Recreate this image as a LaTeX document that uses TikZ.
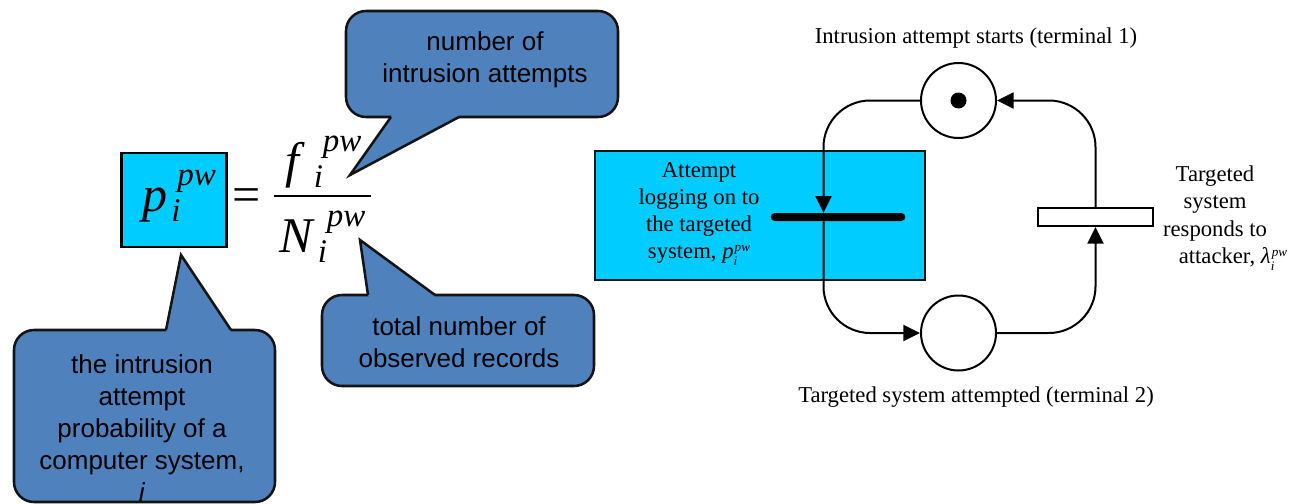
\documentclass[tikz,border=0pt]{standalone}
\usepackage{fontspec}
\usepackage{graphicx}
\setmainfont{Liberation Serif}
\newfontfamily\calloutfont{Liberation Sans}
\usetikzlibrary{arrows.meta}

\definecolor{calloutblue}{HTML}{4F81BD}
\definecolor{calloutedge}{HTML}{141414}
\definecolor{boxcyan}{HTML}{00CCFF}

% symbol with subscript i and superscript pw, large formula version;
% #2 = gap before the subscript, #3 = gap before the superscript (in em)
\newcommand\bigsym[3]{\textit{#1}\kern#2em\raisebox{-0.2em}{\rlap{\scalebox{0.66}{\textit{i}}}}\kern\dimexpr#3em-#2em\relax\raisebox{0.52em}{\scalebox{0.66}{\textit{pw}}}}
% same, for the inline labels of the net
\newcommand\smallsym[1]{\textit{#1}\raisebox{-0.3em}{\rlap{\scalebox{0.58}{\textit{i}}}}\kern0.05em\raisebox{0.32em}{\scalebox{0.58}{\textit{pw}}}}

\tikzset{
  callout/.style={fill=calloutblue, draw=calloutedge, line width=1.9pt, rounded corners=15pt},
  calloutpatch/.style={fill=calloutblue},
  calloutside/.style={draw=calloutedge, line width=1.9pt, line join=miter},
  callouttext/.style={font=\calloutfont\fontsize{19.5pt}{24pt}\selectfont, align=center, text=black, inner sep=0pt},
  formula/.style={font=\fontsize{37.5pt}{45pt}\selectfont, inner sep=0pt},
  petritext/.style={font=\fontsize{17pt}{20.4pt}\selectfont, align=center, inner sep=0pt},
  place/.style={circle, draw=black, fill=white, line width=1.5pt, minimum size=56.25pt, inner sep=0pt},
  token/.style={circle, fill=black, minimum size=12pt, inner sep=0pt},
  timedtrans/.style={rectangle, draw=black, fill=white, line width=1.5pt, minimum width=86pt, minimum height=13.5pt, inner sep=0pt},
  immtrans/.style={rectangle, fill=black, rounded corners=3pt, minimum width=101pt, minimum height=6pt, inner sep=0pt},
  arc/.style={draw=black, line width=1.5pt, rounded corners=35pt, -{Triangle[length=12.5pt,width=12pt]}},
}

\begin{document}
\begin{tikzpicture}[x=0.75pt,y=-0.75pt]
\useasboundingbox (0,0) rectangle (1291,503);

% ---------- formula ----------
\node[rectangle, draw=black, line width=2.2pt, fill=boxcyan, minimum width=79pt, minimum height=70.5pt, inner sep=0pt] (pbox) at (174,200) {};
\node[formula, anchor=base west] (plhs) at (142,211) {\bigsym{p}{0.08}{0.2}};
\node[formula, anchor=base] (eq) at (247,211) {=};
\node[formula, anchor=base west] (fnum) at (285,177) {\bigsym{f}{0.18}{0.36}};
\node[formula, anchor=base west] (nden) at (279,252) {\bigsym{N}{0.06}{0.24}};
\coordinate (barL) at (274,196);
\coordinate (barR) at (371,196);
\draw[line width=1.5pt] (barL) -- (barR);

% ---------- callouts ----------
% number of intrusion attempts
\filldraw[callout] (346,11) rectangle (618,117);
\fill[calloutpatch] (350,175) -- (391,117) -- (393,112) -- (457,112) -- (459,117) -- cycle;
\coordinate (ctip1) at (350,175);
\draw[calloutside] (391,117) -- (ctip1) -- (459,117);
\node[callouttext] (c1) at (485,59.5) {number of\\intrusion attempts};

% total number of observed records
\filldraw[callout] (322,295) rectangle (594,386);
\fill[calloutpatch] (360,240) -- (368,295) -- (370,300) -- (433,300) -- (435,295) -- cycle;
\coordinate (ctip2) at (360,240);
\draw[calloutside] (368,295) -- (ctip2) -- (435,295);
\node[callouttext] (c2) at (459,342.5) {total number of\\observed records};

% intrusion attempt probability
\filldraw[callout] (14,330) rectangle (275,502);
\fill[calloutpatch] (181,255) -- (166,330) -- (168,335) -- (229,335) -- (231,330) -- cycle;
\coordinate (ctip3) at (181,255);
\draw[calloutside] (166,330) -- (ctip3) -- (231,330);
\node[callouttext] (c3) at (142,428) {the intrusion\\attempt\\probability of a\\computer system,\\\textit{i}};

% ---------- Petri net ----------
\node[rectangle, draw=calloutedge, line width=1.5pt, fill=boxcyan, minimum width=247.5pt, minimum height=96.75pt, inner sep=0pt] (abox) at (760,215.5) {};
\node[petritext] (alabel) at (699,214) {Attempt\\logging on to\\the targeted\\system, \smallsym{p}};

\node[place] (T1) at (958.5,100.5) {};
\node[token] (tok) at (T1.center) {};
\node[place] (T2) at (958.5,333) {};
\node[immtrans] (bar) at (838,217) {};
\node[timedtrans] (R) at (1095.5,217) {};

\coordinate (lx) at (823.5,217);
\draw[arc] (T1.west) -| (lx |- bar.north);
\draw[arc] (lx |- bar.south) |- (T2.west);
\draw[arc] (R.north) |- (T1.east);
\draw[arc] (T2.east) -| (R.south);

\node[petritext] (t1label) at (976,38) {Intrusion attempt starts (terminal 1)};
\node[petritext] (t2label) at (976,397) {Targeted system attempted (terminal 2)};
\node[petritext] (rlabel) at (1215,218) {Targeted\\system\\responds to\\\hspace*{27pt}attacker, \smallsym{λ}};
\end{tikzpicture}
\end{document}
